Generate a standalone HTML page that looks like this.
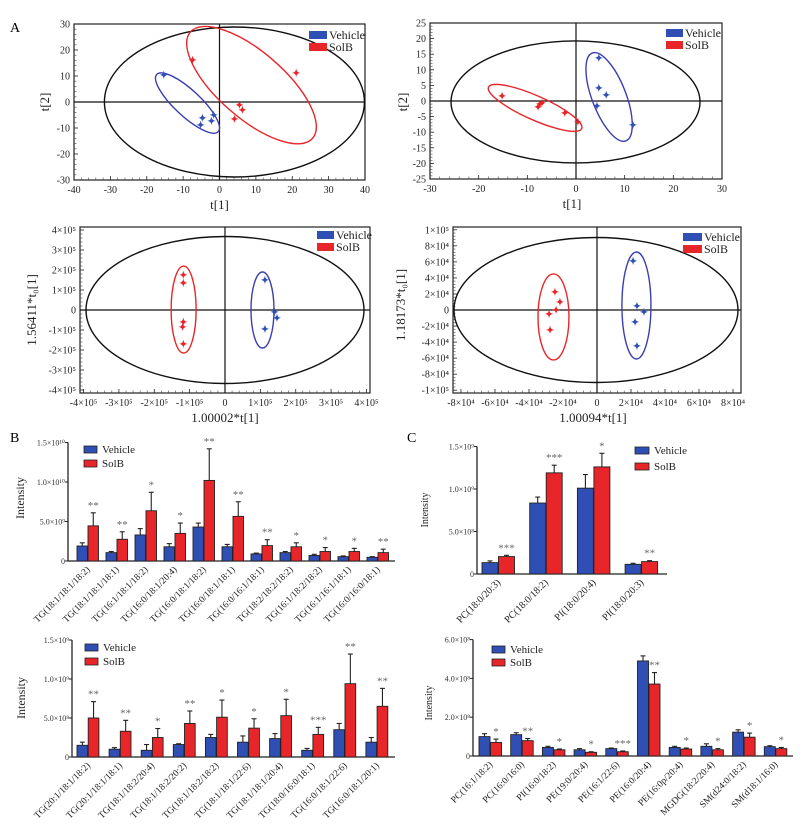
<!DOCTYPE html>
<html><head><meta charset="utf-8"><style>
body{margin:0;background:#fff}
svg{display:block;font-family:"Liberation Serif",serif}
</style></head><body>
<svg id="fig" width="801" height="831" viewBox="0 0 801 831" xmlns="http://www.w3.org/2000/svg">
<text x="10" y="32" font-size="14">A</text>
<text x="10" y="442" font-size="14">B</text>
<text x="407" y="442" font-size="14">C</text>
</svg>
<script>
// ===== Scatter data (score plots) =====
const a1VehX=[-15.3,-4.7,-5.2,-2.2,-1.6];
const a1VehY=[10.4,-6.2,-8.8,-7.3,-5.0];
const a1SolX=[-7.4,21.1,5.5,6.3,4.1];
const a1SolY=[16.2,11.2,-1.2,-3.1,-6.5];
const a2VehX=[4.7,4.7,6.2,4.3,11.7];
const a2VehY=[13.8,4.2,1.9,-1.6,-7.7];
const a2SolX=[-15.2,-7.8,-7.4,-7.0,-2.3,0.4];
const a2SolY=[1.6,-1.9,-1.0,-0.6,-3.8,-6.7];
const a3VehX=[1.13,1.4,1.47,1.13];
const a3VehY=[1.5,-0.1,-0.4,-0.95];
const a3SolX=[-1.18,-1.18,-1.18,-1.2,-1.18];
const a3SolY=[1.75,1.35,-0.6,-0.85,-1.7];
const a4VehX=[2.12,2.35,2.76,2.24,2.35];
const a4VehY=[6.1,0.5,-0.25,-1.5,-4.5];
const a4SolX=[-2.47,-2.18,-2.41,-2.82,-2.76];
const a4SolY=[2.25,1.0,0,-0.5,-2.5];

// ===== Bar data =====
const bTopCats=["TG(18:1/18:1/18:2)","TG(18:1/18:1/18:1)","TG(16:1/18:1/18:2)","TG(16:0/18:1/20:4)","TG(16:0/18:1/18:2)","TG(16:0/18:1/18:1)","TG(16:0/16:1/18:1)","TG(18:2/18:2/18:2)","TG(16:1/18:2/18:2)","TG(16:1/16:1/18:1)","TG(16:0/16:0/18:1)"];
const bTopVeh=[0.19,0.106,0.33,0.18,0.43,0.18,0.09,0.106,0.07,0.055,0.047];
const bTopVehErr=[0.23,0.12,0.41,0.22,0.48,0.21,0.10,0.12,0.085,0.064,0.055];
const bTopSol=[0.445,0.275,0.636,0.35,1.02,0.565,0.195,0.18,0.12,0.12,0.106];
const bTopSolErr=[0.61,0.37,0.87,0.48,1.42,0.75,0.27,0.23,0.17,0.16,0.15];
const bTopSig=["**","**","*","*","**","**","**","*","*","*","**"];
const bTopTicks=[0,0.5,1.0,1.5];
const bTopTickLabels=["0","5.0×10⁹","1.0×10¹⁰","1.5×10¹⁰"];

const bBotCats=["TG(20:1/18:1/18:2)","TG(20:1/18:1/18:1)","TG(18:1/18:2/20:4)","TG(18:1/18:2/20:2)","TG(18:1/18:2/18:2)","TG(18:1/18:1/22:6)","TG(18:1/18:1/20:4)","TG(18:0/16:0/18:1)","TG(16:0/18:1/22:6)","TG(16:0/18:1/20:1)"];
const bBotVeh=[0.15,0.10,0.086,0.16,0.25,0.19,0.236,0.086,0.35,0.19];
const bBotVehErr=[0.19,0.12,0.16,0.17,0.29,0.27,0.30,0.11,0.43,0.25];
const bBotSol=[0.50,0.33,0.25,0.43,0.51,0.37,0.53,0.29,0.94,0.65];
const bBotSolErr=[0.71,0.47,0.365,0.59,0.73,0.49,0.74,0.38,1.32,0.88];
const bBotSig=["**","**","*","**","*","*","*","***","**","**"];
const bBotTicks=[0,0.5,1.0,1.5];
const bBotTickLabels=["0","5.0×10⁸","1.0×10⁹","1.5×10⁹"];

const cTopCats=["PC(18:0/20:3)","PC(18:0/18:2)","PI(18:0/20:4)","PI(18:0/20:3)"];
const cTopVeh=[0.134,0.835,1.01,0.114];
const cTopVehErr=[0.154,0.905,1.17,0.126];
const cTopSol=[0.205,1.19,1.26,0.146];
const cTopSolErr=[0.22,1.28,1.42,0.157];
const cTopSig=["***","***","*","**"];
const cTopTicks=[0,0.5,1.0,1.5];
const cTopTickLabels=["0","5.0×10⁸","1.0×10⁹","1.5×10⁹"];

const cBotCats=["PC(16:1/18:2)","PC(16:0/16:0)","PI(16:0/18:2)","PE(19:0/20:4)","PE(16:1/22:6)","PE(16:0/20:4)","PE(16:0p/20:4)","MGDG(18:2/20:4)","SM(d24:0/18:2)","SM(d18:1/16:0)"];
const cBotVeh=[1.0,1.1,0.44,0.32,0.38,4.9,0.44,0.5,1.23,0.48];
const cBotVehErr=[1.15,1.2,0.5,0.38,0.41,5.16,0.5,0.63,1.35,0.53];
const cBotSol=[0.70,0.79,0.32,0.19,0.22,3.71,0.36,0.32,0.97,0.38];
const cBotSolErr=[0.87,0.9,0.36,0.22,0.26,4.3,0.41,0.38,1.18,0.44];
const cBotSig=["*","**","*","*","***","**","*","*","*","*"];
const cBotTicks=[0,2,4,6];
const cBotTickLabels=["0","2.0×10⁸","4.0×10⁸","6.0×10⁸"];

const NS="http://www.w3.org/2000/svg";
const svg=document.getElementById('fig');
const BLUE="#2f4fb5", RED="#e8262a";
function mk(tag,attrs,parent){const e=document.createElementNS(NS,tag);for(const k in attrs)e.setAttribute(k,attrs[k]);(parent||svg).appendChild(e);return e;}

function scatter(id,box,dom,xt,xtl,yt,ytl,veh,sol,ells,leg,xTitle,yTitle,yTitlePos){
  const g=mk('g',{});
  
  
  const sx=v=>box.x0+(v-dom.x0)/(dom.x1-dom.x0)*(box.x1-box.x0);
  const sy=v=>box.y1-(v-dom.y0)/(dom.y1-dom.y0)*(box.y1-box.y0);
  const fr=mk('rect',{x:box.x0,y:box.y0,width:box.x1-box.x0,height:box.y1-box.y0,fill:'none',stroke:'#222','stroke-width':1.2},g);
  
  
  // minor ticks
  for(let i=0;i<xt.length-1;i++){for(let k=1;k<5;k++){const v=xt[i]+(xt[i+1]-xt[i])*k/5;mk('line',{x1:sx(v),x2:sx(v),y1:box.y1,y2:box.y1-2.5,stroke:'#444','stroke-width':0.6},g);}}
  for(let i=0;i<yt.length-1;i++){for(let k=1;k<5;k++){const v=yt[i]+(yt[i+1]-yt[i])*k/5;mk('line',{x1:box.x0,x2:box.x0+2.5,y1:sy(v),y2:sy(v),stroke:'#444','stroke-width':0.6},g);}}
  xt.forEach((v,i)=>{mk('line',{x1:sx(v),x2:sx(v),y1:box.y1,y2:box.y1-4,stroke:'#222','stroke-width':0.8},g);
    const t=mk('text',{x:sx(v),y:box.y1+13,'font-size':10,'text-anchor':'middle',fill:'#222'},g);t.textContent=xtl[i];
    
    });
  yt.forEach((v,i)=>{mk('line',{x1:box.x0,x2:box.x0+4,y1:sy(v),y2:sy(v),stroke:'#222','stroke-width':0.8},g);
    const t=mk('text',{x:box.x0-4,y:sy(v)+3.5,'font-size':10,'text-anchor':'end',fill:'#222'},g);t.textContent=ytl[i];
    
    });
  // zero axes
  mk('line',{x1:box.x0,x2:box.x1,y1:sy(0),y2:sy(0),stroke:'#111','stroke-width':1.2},g);
  mk('line',{x1:sx(0),x2:sx(0),y1:box.y0,y2:box.y1,stroke:'#111','stroke-width':1.2},g);
  ells.forEach(e=>{const cx=sx(e.cx),cy=sy(e.cy);
    const el=mk('ellipse',{cx:cx,cy:cy,rx:e.rx,ry:e.ry,fill:'none',stroke:e.c,'stroke-width':1.4,transform:`rotate(${e.a||0} ${cx} ${cy})`},g);
    
    });
  [[veh,BLUE,'vehicle-point'],[sol,RED,'solb-point']].forEach(([d,c,n])=>{
    d[0].forEach((x,i)=>{const p=mk('text',{x:sx(x),y:sy(d[1][i])+3.5,'font-size':10,'text-anchor':'middle',fill:c,'font-weight':'bold'},g);p.textContent='✦';
      
      });});
  // legend
  [[BLUE,'Vehicle',0],[RED,'SolB',12]].forEach(([c,l,dy])=>{
    const r=mk('rect',{x:leg.x,y:leg.y+dy,width:leg.w,height:8,fill:c},g);
    
    
    const t=mk('text',{x:leg.x+leg.w+2,y:leg.y+dy+8,'font-size':12,fill:'#222'},g);t.textContent=l;
    
    });
  const xt2=mk('text',{x:sx(0)+xTitle.dx,y:box.y1+29,'font-size':13,'text-anchor':'middle',fill:'#222'},g);xt2.textContent=xTitle.t;
  
  
  const yt2=mk('text',{x:yTitlePos[0],y:yTitlePos[1],'font-size':13,'text-anchor':'middle',fill:'#222',transform:`rotate(-90 ${yTitlePos[0]} ${yTitlePos[1]})`},g);yt2.textContent=yTitle;
  
  
}
function rng(a,b,s){const r=[];for(let v=a;v<=b+1e-9;v+=s)r.push(Math.round(v*100)/100);return r;}
const sup={'-':'-'};
function pw(v,e){if(v===0)return '0';return (v<0?'-':'')+Math.abs(v)+'×10'+e;}

scatter('score-plot-pca-1',{x0:74,x1:365,y0:24,y1:180},{x0:-40,x1:40,y0:-30,y1:30},
  rng(-40,40,10),rng(-40,40,10).map(String),rng(-30,30,10),rng(-30,30,10).map(String),
  [a1VehX,a1VehY],[a1SolX,a1SolY],
  [{cx:4.1,cy:0,rx:130,ry:75,c:'#111',n:'hotelling-ellipse'},{cx:-8.8,cy:-0.4,rx:42,ry:13,a:43,c:'#3a3fb0',n:'vehicle-ellipse'},{cx:8.8,cy:6.5,rx:81,ry:33,a:41,c:RED,n:'solb-ellipse'}],
  {x:309,y:31,w:18},{t:'t[1]',dx:0},'t[2]',[49,102]);
scatter('score-plot-pca-2',{x0:430,x1:722,y0:23,y1:179},{x0:-30,x1:30,y0:-25,y1:25},
  rng(-30,30,10),rng(-30,30,10).map(String),rng(-25,25,5),rng(-25,25,5).map(String),
  [a2VehX,a2VehY],[a2SolX,a2SolY],
  [{cx:-0.1,cy:-0.3,rx:124.5,ry:61,c:'#111',n:'hotelling-ellipse'},{cx:-8.4,cy:-2.2,rx:51,ry:12,a:24,c:RED,n:'solb-ellipse'},{cx:6.8,cy:1.3,rx:47,ry:17,a:69,c:'#3a3fb0',n:'vehicle-ellipse'}],
  {x:666,y:29,w:17},{t:'t[1]',dx:-4},'t[2]',[407,102]);
scatter('score-plot-opls-1',{x0:80,x1:370,y0:227,y1:393},{x0:-4.1,x1:4.1,y0:-4.15,y1:4.15},
  rng(-4,4,1),rng(-4,4,1).map(v=>pw(v,'⁵')),rng(-4,4,1),rng(-4,4,1).map(v=>pw(v,'⁵')),
  [a3VehX,a3VehY],[a3SolX,a3SolY],
  [{cx:0,cy:0,rx:139,ry:73.5,c:'#111',n:'hotelling-ellipse'},{cx:-1.17,cy:0.02,rx:12.5,ry:43.5,c:RED,n:'solb-ellipse'},{cx:1.06,cy:0,rx:11.5,ry:38,c:'#3a3fb0',n:'vehicle-ellipse'}],
  {x:317,y:231,w:17},{t:'1.00002*t[1]',dx:0},'1.56411*t₀[1]',[36,310]);
scatter('score-plot-opls-2',{x0:453,x1:741,y0:227,y1:393},{x0:-8.47,x1:8.47,y0:-10.35,y1:10.35},
  rng(-8,8,2),rng(-8,8,2).map(v=>pw(v,'⁴')),rng(-10,10,2),rng(-10,10,2).map(v=>Math.abs(v)===10?(v<0?'-1×10⁵':'1×10⁵'):pw(v,'⁴')),
  [a4VehX,a4VehY],[a4SolX,a4SolY],
  [{cx:-0.06,cy:0,rx:142,ry:72.5,c:'#111',n:'hotelling-ellipse'},{cx:-2.56,cy:-0.87,rx:15.5,ry:43,c:RED,n:'solb-ellipse'},{cx:2.32,cy:0.56,rx:14.5,ry:53.5,c:'#3a3fb0',n:'vehicle-ellipse'}],
  {x:683,y:233,w:19},{t:'1.00094*t[1]',dx:-4},'1.18173*t₀[1]',[405,305]);

function bars(id,cfg,cats,veh,vehE,sol,solE,sig,ticks,tl){
  const g=mk('g',{});
  
  
  const sy=v=>cfg.y0-v*cfg.k;
  const top=sy(ticks[ticks.length-1]);
  mk('line',{x1:cfg.ax,x2:cfg.ax,y1:top,y2:cfg.y0,stroke:'#222','stroke-width':1.3},g);
  mk('line',{x1:cfg.ax,x2:cfg.xe,y1:cfg.y0,y2:cfg.y0,stroke:'#222','stroke-width':1.3},g);
  ticks.forEach((v,i)=>{mk('line',{x1:cfg.ax-3,x2:cfg.ax,y1:sy(v),y2:sy(v),stroke:'#222','stroke-width':1},g);
    const t=mk('text',{x:cfg.ax-3,y:sy(v)+3,'font-size':cfg.tf,'text-anchor':'end',fill:'#333'},g);t.textContent=tl[i];
    
    });
  const yl=mk('text',{x:cfg.yl[0],y:cfg.yl[1],'font-size':cfg.yf,'text-anchor':'middle',fill:'#222',transform:`rotate(-90 ${cfg.yl[0]} ${cfg.yl[1]})`},g);yl.textContent='Intensity';
  
  
  cats.forEach((c,i)=>{
    const bx=cfg.s0+i*cfg.sp, rx=bx+cfg.bw+0.5;
    [[bx,veh[i],vehE[i],BLUE,'bar-vehicle'],[rx,sol[i],solE[i],RED,'bar-solb']].forEach(([x,v,e,col,n])=>{
      const cx=x+cfg.bw/2;
      mk('line',{x1:cx,x2:cx,y1:sy(e),y2:sy(v),stroke:'#222','stroke-width':1.1},g);
      mk('line',{x1:cx-2.5,x2:cx+2.5,y1:sy(e),y2:sy(e),stroke:'#222','stroke-width':1.1},g);
      const r=mk('rect',{x:x,y:sy(v),width:cfg.bw,height:v*cfg.k,fill:col,stroke:'#222','stroke-width':0.9},g);
      
      
    });
    const st=mk('text',{x:rx+cfg.bw/2,y:sy(solE[i])-4,'font-size':11,'text-anchor':'middle',fill:'#666'},g);st.textContent=sig[i];
    
    
    const gx=bx+cfg.bw+3, ly=cfg.y0+9;
    const t=mk('text',{x:gx,y:ly,'font-size':cfg.lf,'text-anchor':'end',fill:'#222',transform:`rotate(-45 ${gx} ${ly})`},g);t.textContent=c;
    
    
  });
  [[BLUE,'Vehicle',0],[RED,'SolB',cfg.lg[3]]].forEach(([c,l,dy])=>{
    const r=mk('rect',{x:cfg.lg[0],y:cfg.lg[1]+dy,width:cfg.lg[2],height:7,fill:c,stroke:'#222','stroke-width':0.8},g);
    
    
    const t=mk('text',{x:cfg.lg[0]+cfg.lg[2]+5,y:cfg.lg[1]+dy+7,'font-size':11,fill:'#222'},g);t.textContent=l;
    
    });
}
bars('bar-chart-tg-1',{y0:561,k:79,ax:68,xe:395,s0:77,sp:29,bw:10.5,tf:8,yf:12,lf:9.5,yl:[24,498],lg:[84,446,13,14]},bTopCats,bTopVeh,bTopVehErr,bTopSol,bTopSolErr,bTopSig,bTopTicks,bTopTickLabels);
bars('bar-chart-tg-2',{y0:757,k:78,ax:72,xe:395,s0:77,sp:32.1,bw:10.7,tf:8,yf:12,lf:9.5,yl:[25,698],lg:[85,644,13,14]},bBotCats,bBotVeh,bBotVehErr,bBotSol,bBotSolErr,bBotSig,bBotTicks,bBotTickLabels);
bars('bar-chart-pc-pi',{y0:574,k:85,ax:477,xe:667,s0:482,sp:47.7,bw:16,tf:8,yf:10,lf:10,yl:[428,510],lg:[635,447,14,16]},cTopCats,cTopVeh,cTopVehErr,cTopSol,cTopSolErr,cTopSig,cTopTicks,cTopTickLabels);
bars('bar-chart-other-lipids',{y0:756,k:19.4,ax:473,xe:793,s0:479,sp:31.7,bw:11,tf:8,yf:10,lf:9.5,yl:[432,703],lg:[492,646,13,13]},cBotCats,cBotVeh,cBotVehErr,cBotSol,cBotSolErr,cBotSig,cBotTicks,cBotTickLabels);
</script>
</body></html>
